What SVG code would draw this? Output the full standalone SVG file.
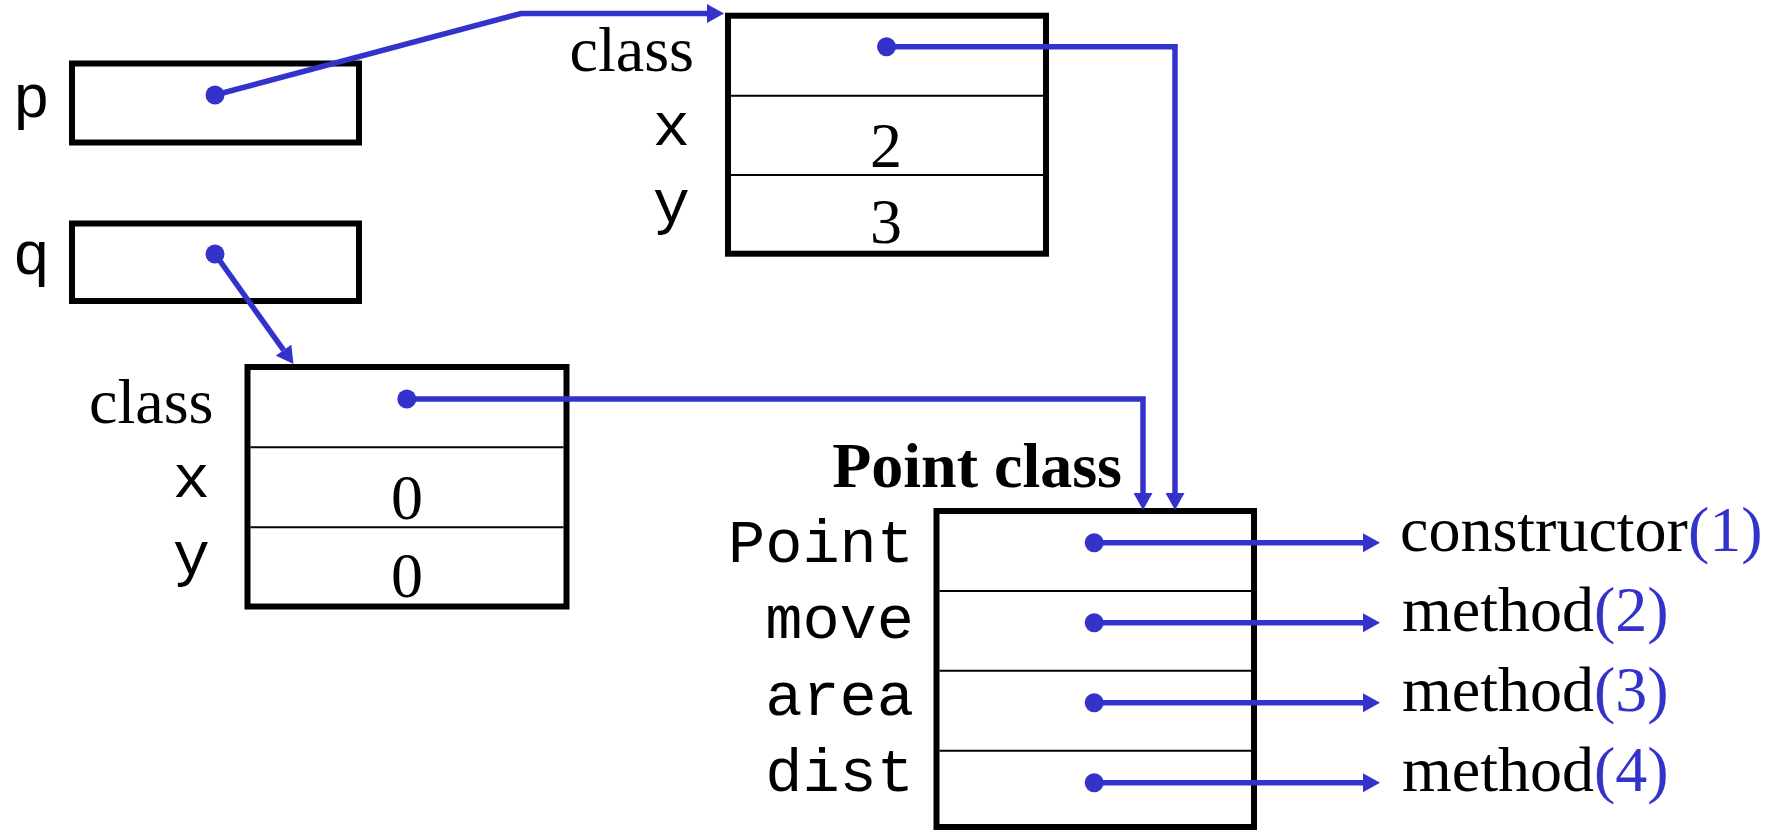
<svg xmlns="http://www.w3.org/2000/svg" width="1773" height="831" viewBox="0 0 1773 831">
<style>
.box{fill:#fff;stroke:#000;stroke-width:6}
.div{stroke:#000;stroke-width:2}
.serif{font-family:"Liberation Serif","Times New Roman",serif;font-size:64px;fill:#000}
.mono{font-family:"Liberation Mono","Courier New",monospace;font-size:62px;fill:#000}
.bold{font-weight:bold}
.blue{fill:#3333CC}
.con{fill:none;stroke:#3333CC;stroke-width:5.5}
.dot{fill:#3333CC}
</style>
<defs>
<marker id="ah" markerUnits="userSpaceOnUse" markerWidth="18" markerHeight="19" viewBox="0 0 17 19" refX="0" refY="9.5" orient="auto">
<path d="M0,0 L17,9.5 L0,19 z" fill="#3333CC"/>
</marker>
</defs>
<g id="var-p">
<rect class="box" x="72" y="63.5" width="287" height="79"/>
<text class="mono" x="50" y="117" text-anchor="end">p</text>
<circle class="dot" cx="215" cy="95" r="9.5"/>
</g>
<g id="var-q">
<rect class="box" x="72" y="223.5" width="287" height="77.5"/>
<text class="mono" x="50" y="274" text-anchor="end">q</text>
<circle class="dot" cx="215" cy="254" r="9.5"/>
</g>
<g id="obj1">
<rect class="box" x="728" y="15.7" width="318" height="238"/>
<line class="div" x1="731" y1="95.7" x2="1043" y2="95.7"/>
<line class="div" x1="731" y1="175" x2="1043" y2="175"/>
<text class="serif" x="694" y="70.5" text-anchor="end">class</text>
<text class="mono" x="690" y="145" text-anchor="end">x</text>
<text class="mono" x="690" y="222" text-anchor="end">y</text>
<text class="serif" x="886" y="166.5" text-anchor="middle">2</text>
<text class="serif" x="886" y="243" text-anchor="middle">3</text>
<circle class="dot" cx="886.5" cy="46.7" r="9.5"/>
</g>
<g id="obj2">
<rect class="box" x="247.5" y="367" width="319" height="239.5"/>
<line class="div" x1="250.5" y1="447.3" x2="563.5" y2="447.3"/>
<line class="div" x1="250.5" y1="527.3" x2="563.5" y2="527.3"/>
<text class="serif" x="213.5" y="422.7" text-anchor="end">class</text>
<text class="mono" x="210" y="496.7" text-anchor="end">x</text>
<text class="mono" x="210" y="574" text-anchor="end">y</text>
<text class="serif" x="407" y="519" text-anchor="middle">0</text>
<text class="serif" x="407" y="597" text-anchor="middle">0</text>
<circle class="dot" cx="406.8" cy="399" r="9.5"/>
</g>
<g id="point-class">
<text class="serif bold" x="1122" y="486.7" text-anchor="end">Point class</text>
<rect class="box" x="936.5" y="511" width="317.5" height="316"/>
<line class="div" x1="939.5" y1="591" x2="1251" y2="591"/>
<line class="div" x1="939.5" y1="670.7" x2="1251" y2="670.7"/>
<line class="div" x1="939.5" y1="750.7" x2="1251" y2="750.7"/>
<text class="mono" x="914" y="562" text-anchor="end">Point</text>
<text class="mono" x="914" y="637.5" text-anchor="end">move</text>
<text class="mono" x="914" y="715" text-anchor="end">area</text>
<text class="mono" x="914" y="791" text-anchor="end">dist</text>
<circle class="dot" cx="1094.2" cy="542.7" r="9.5"/>
<circle class="dot" cx="1094.2" cy="622.7" r="9.5"/>
<circle class="dot" cx="1094.2" cy="702.7" r="9.5"/>
<circle class="dot" cx="1094.2" cy="782.7" r="9.5"/>
</g>
<g id="targets">
<text class="serif" x="1400" y="550.7">constructor<tspan class="blue">(1)</tspan></text>
<text class="serif" x="1402" y="630.7">method<tspan class="blue">(2)</tspan></text>
<text class="serif" x="1402" y="710.7">method<tspan class="blue">(3)</tspan></text>
<text class="serif" x="1402" y="790.7">method<tspan class="blue">(4)</tspan></text>
</g>
<g id="connectors">
<path class="con" d="M215,95 L521,13.5 L707,13.5" marker-end="url(#ah)"/>
<path class="con" d="M215,254 L283.6,350.2" marker-end="url(#ah)"/>
<path class="con" d="M886.5,46.7 H1175 V493" marker-end="url(#ah)"/>
<path class="con" d="M406.8,399 H1143 V493" marker-end="url(#ah)"/>
<path class="con" d="M1094.2,542.7 H1363" marker-end="url(#ah)"/>
<path class="con" d="M1094.2,622.7 H1363" marker-end="url(#ah)"/>
<path class="con" d="M1094.2,702.7 H1363" marker-end="url(#ah)"/>
<path class="con" d="M1094.2,782.7 H1363" marker-end="url(#ah)"/>
</g>
</svg>
